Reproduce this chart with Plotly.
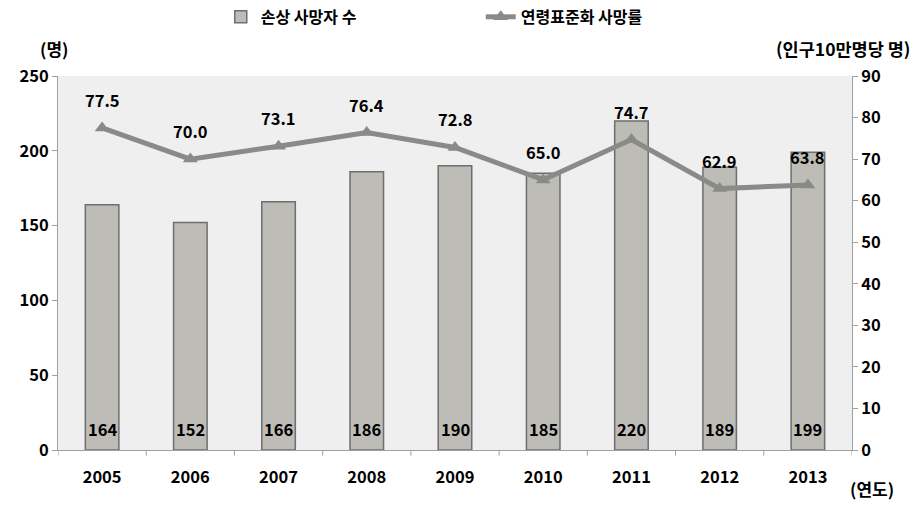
import plotly.graph_objects as go

years = ["2005", "2006", "2007", "2008", "2009", "2010", "2011", "2012", "2013"]
deaths = [164, 152, 166, 186, 190, 185, 220, 189, 199]
rates = [77.5, 70.0, 73.1, 76.4, 72.8, 65.0, 74.7, 62.9, 63.8]

FONT = "Noto Sans CJK KR"
BOLD = dict(family=FONT, size=16.5, color="black", weight="bold")

fig = go.Figure()
fig.add_trace(go.Bar(
    x=years, y=deaths, name="손상 사망자 수",
    marker=dict(color="#BEBCB7", line=dict(color="#6E6E6E", width=1.5)),
    width=0.38, yaxis="y",
))
fig.add_trace(go.Scatter(
    x=years, y=rates, name="연령표준화 사망률", mode="lines+markers",
    line=dict(color="#8A8A87", width=5),
    marker=dict(symbol="triangle-up", size=13, color="#8A8A87"),
    yaxis="y2",
))

ann = []
for i, v in enumerate(deaths):
    ann.append(dict(x=i, y=0, xref="x", yref="y", text=f"<b>{v}</b>", showarrow=False,
                    yanchor="bottom", yshift=7, font=dict(family=FONT, size=16.5, color="black")))
for i, v in enumerate(rates):
    ann.append(dict(x=i, y=v, xref="x", yref="y2", text=f"<b>{v:.1f}</b>", showarrow=False,
                    yanchor="bottom", yshift=14, font=dict(family=FONT, size=16.5, color="black")))
ann.append(dict(x=-0.005, y=1.035, xref="paper", yref="paper", text="<b>(명)</b>", showarrow=False,
                xanchor="center", yanchor="bottom", font=dict(family=FONT, size=17, color="black")))
ann.append(dict(x=1.075, y=1.035, xref="paper", yref="paper", text="<b>(인구10만명당 명)</b>", showarrow=False,
                xanchor="right", yanchor="bottom", font=dict(family=FONT, size=17.5, color="black")))
ann.append(dict(x=1.025, y=-0.065, xref="paper", yref="paper", text="<b>(연도)</b>", showarrow=False,
                xanchor="center", yanchor="top", font=dict(family=FONT, size=17, color="black")))

shapes = []
for i in range(len(years) + 1):
    shapes.append(dict(type="line", xref="x", yref="paper", x0=i - 0.5, x1=i - 0.5, y0=0, y1=-0.015,
                       line=dict(color="#A0A0A0", width=1)))

fig.update_layout(
    width=917, height=506,
    margin=dict(l=58, r=65, t=76, b=56, autoexpand=False),
    paper_bgcolor="white", plot_bgcolor="#EFEFEF",
    font=dict(family=FONT, size=15, color="black"),
    showlegend=True,
    legend=dict(orientation="h", x=0.205, y=1.158, xanchor="left", yanchor="middle",
                font=dict(family=FONT, size=16, color="black", weight="bold"),
                entrywidth=215, entrywidthmode="pixels", bgcolor="rgba(0,0,0,0)"),
    xaxis=dict(type="category", showgrid=False, showline=True, linecolor="#A0A0A0",
               ticks="", tickfont=BOLD, ticklabelstandoff=12, range=[-0.5, 8.5]),
    yaxis=dict(range=[0, 250], dtick=50, showgrid=False, showline=True, linecolor="#A0A0A0",
               ticks="outside", ticklen=5, tickcolor="#A0A0A0", tickfont=BOLD, zeroline=False),
    yaxis2=dict(range=[0, 90], dtick=10, overlaying="y", side="right", showgrid=False,
                showline=True, linecolor="#A0A0A0", ticks="outside", ticklen=5, tickcolor="#A0A0A0",
                tickfont=BOLD, zeroline=False),
    annotations=ann,
    shapes=shapes,
)

fig.write_html("out.html")
